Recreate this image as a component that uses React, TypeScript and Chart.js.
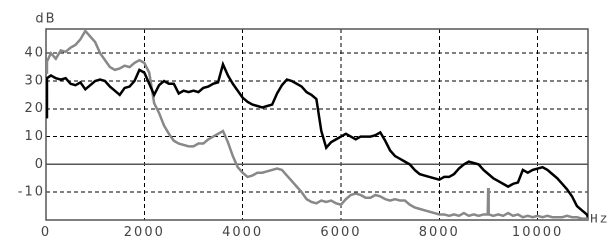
import React, { useEffect, useRef } from 'react';
import { Chart, registerables } from 'chart.js';

Chart.register(...registerables);

// Frequency grid (Hz): 0, 20, then every 100 Hz up to 11000, then 11025
const HZ: number[] = [0, 20, ...Array.from({ length: 110 }, (_, i) => (i + 1) * 100), 11025];

const X_TICKS = [0, 2000, 4000, 6000, 8000, 10000];
const Y_TICKS = [-10, 0, 10, 20, 30, 40];

// Black trace (dB)
const BLACK_DB = [
  17, 31,
  32, 31, 30.5, 31, 29, 28.5, 29.5, 27, 28.5, 30,
  30.5, 30, 28, 26.5, 25, 27.5, 28, 30, 34, 33,
  29, 25, 28.5, 30, 29, 29, 25.5, 26.5, 26, 26.5,
  26, 27.5, 28, 29, 29.5, 36, 32, 29, 26.5, 24,
  22.5, 21.5, 21, 20.5, 21, 21.5, 25.5, 28.5, 30.5, 30,
  29, 28, 26, 25, 23.5, 12, 6, 8, 9, 10,
  11, 10, 9, 10, 10, 10, 10.5, 11.5, 8.5, 5,
  3, 2, 1, 0, -2, -3.5, -4, -4.5, -5, -5.5,
  -4.5, -4.5, -3.5, -1.5, 0, 1, 0.5, 0, -2, -3.5,
  -5, -6, -7, -8, -7, -6.5, -2, -3, -2, -1.5,
  -1, -2, -3.5, -5, -7, -9, -11.5, -15, -16.5, -18,
  -19,
];

// Gray trace (dB)
const GRAY_DB = [
  33, 37,
  40, 38, 41, 40.5, 42, 43, 45, 48, 46, 44,
  40, 37.5, 35, 34, 34.5, 35.5, 35, 36.5, 37.5, 36.5,
  33, 22, 18.5, 14, 11, 8.5, 7.5, 7, 6.5, 6.5,
  7.5, 7.5, 9, 10, 11, 12, 8, 3, -1, -3,
  -4.5, -4, -3, -3, -2.5, -2, -1.5, -2, -4, -6,
  -8, -10, -12.5, -13.5, -14, -13, -13.5, -13, -14, -14.5,
  -12.5, -11, -10.5, -11, -12, -12, -11, -11.5, -12.5, -13,
  -12.5, -13, -13, -14.5, -15.5, -16, -16.5, -17, -17.5, -18,
  -18, -18.5, -18, -18.5, -17.5, -18.5, -18, -18.5, -18, -18,
  -18.5, -18, -18.5, -17.5, -18.5, -18, -19, -18.5, -19, -18.5,
  -19, -18.5, -19, -19, -19, -18.5, -19, -19, -19.5, -19.5,
  -19.5,
];

// Narrow spike in the gray trace near 9 kHz
const GRAY_SPIKE_HZ = [8985, 8995, 9005];
const GRAY_SPIKE_DB = [-18, -8.5, -18];

function buildBlack() {
  return HZ.map((x, i) => ({ x, y: BLACK_DB[i] }));
}
function buildGray() {
  const pts = HZ.map((x, i) => ({ x, y: GRAY_DB[i] })).filter((p) => p.x !== 9000);
  GRAY_SPIKE_HZ.forEach((x, i) => pts.push({ x, y: GRAY_SPIKE_DB[i] }));
  pts.sort((a, b) => a.x - b.x);
  return pts;
}

const SPACING = '2px';
const FRAME_COLOR = '#555';
const TEXT_COLOR = '#444';

const framePlugin = {
  id: 'frameAndLabels',
  beforeUpdate(chart: any) {
    chart.ctx.letterSpacing = SPACING;
  },
  beforeDraw(chart: any) {
    chart.ctx.letterSpacing = SPACING;
  },
  beforeDatasetsDraw(chart: any) {
    const { ctx, chartArea } = chart;
    const { left, top, right, bottom } = chartArea;
    ctx.save();
    ctx.setLineDash([]);
    ctx.strokeStyle = FRAME_COLOR;
    ctx.lineWidth = 1.5;
    ctx.strokeRect(left, top, right - left, bottom - top);
    ctx.restore();
  },
  afterDraw(chart: any) {
    const { ctx, chartArea } = chart;
    const { left, top, right, bottom } = chartArea;
    ctx.save();
    ctx.fillStyle = TEXT_COLOR;
    ctx.font = '13px "DejaVu Sans"';
    ctx.textAlign = 'center';
    ctx.textBaseline = 'middle';
    ctx.fillText('dB', left, top - 10);
    ctx.font = '13px "Liberation Mono"';
    ctx.textAlign = 'left';
    ctx.fillText('Hz', right + 2, bottom - 1);
    ctx.restore();
  },
};

export default function App() {
  const ref = useRef<HTMLCanvasElement | null>(null);

  useEffect(() => {
    if (!ref.current) return;
    const isZero = (c: any) => !!(c && c.tick && c.tick.value === 0);
    const tickFont = { family: '"DejaVu Sans"', size: 13 };
    const chart = new Chart(ref.current, {
      type: 'line',
      data: {
        datasets: [
          {
            data: buildBlack(),
            borderColor: '#000',
            borderWidth: 2.5,
            pointRadius: 0,
            order: 0,
          },
          {
            data: buildGray(),
            borderColor: '#888',
            borderWidth: 2.5,
            pointRadius: 0,
            order: 1,
          },
        ],
      },
      options: {
        animation: false,
        responsive: false,
        devicePixelRatio: 2,
        parsing: false,
        layout: { padding: { top: 29, right: 22, left: 0, bottom: 0 } },
        plugins: { legend: { display: false }, tooltip: { enabled: false } },
        scales: {
          x: {
            type: 'linear',
            min: 0,
            max: 11025,
            afterBuildTicks: (s: any) => {
              s.ticks = X_TICKS.map((v) => ({ value: v }));
            },
            afterFit: (s: any) => {
              s.height = 21;
            },
            grid: {
              color: (c: any) => (isZero(c) ? 'rgba(0,0,0,0)' : '#000'),
              lineWidth: 1,
              drawTicks: false,
            },
            border: { display: false, dash: [4, 3] },
            ticks: {
              color: TEXT_COLOR,
              font: tickFont,
              padding: 5,
              maxRotation: 0,
              autoSkip: false,
              callback: (v: any) => String(v),
            },
          },
          y: {
            type: 'linear',
            min: -20,
            max: 48.7,
            afterBuildTicks: (s: any) => {
              s.ticks = Y_TICKS.map((v) => ({ value: v }));
            },
            afterFit: (s: any) => {
              s.width = 46;
            },
            grid: {
              color: (c: any) => (isZero(c) ? FRAME_COLOR : '#000'),
              lineWidth: (c: any) => (isZero(c) ? 1.5 : 1),
              drawTicks: false,
            },
            border: {
              display: false,
              dash: (c: any) => (isZero(c) ? [] : [4, 3]),
            },
            ticks: {
              color: TEXT_COLOR,
              font: tickFont,
              padding: 1,
              autoSkip: false,
              callback: (v: any) => String(v),
            },
          },
        },
      },
      plugins: [framePlugin],
    } as any);
    return () => chart.destroy();
  }, []);

  return (
    <div style={{ position: 'fixed', left: 0, top: 0, width: 610, height: 241 }}>
      <canvas ref={ref} width={610} height={241} />
    </div>
  );
}
